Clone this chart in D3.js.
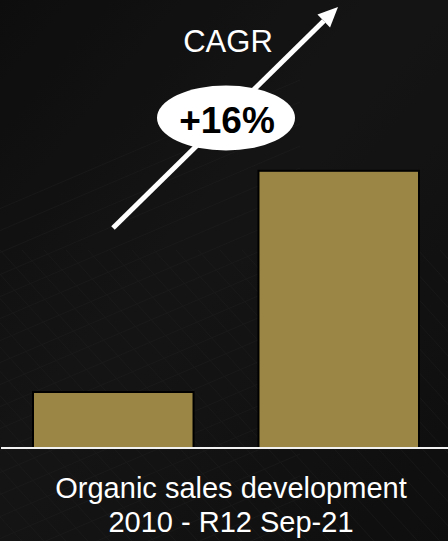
<!DOCTYPE html>
<html>
<head>
<meta charset="utf-8">
<script src="https://cdn.jsdelivr.net/npm/d3@7"></script>
<style>
html,body{margin:0;padding:0;background:#121212;}
svg{display:block;}
</style>
</head>
<body>
<svg id="chart" width="448" height="541"></svg>
<script>
const categories = ["2010", "R12 Sep-21"];
const values = [1.0, 4.95];
const cagrLabel = "CAGR";
const cagrValue = "+16%";
const captionLines = ["Organic sales development", "2010 - R12 Sep-21"];

const W = 448, H = 541;
const svg = d3.select("#chart");
const defs = svg.append("defs");

// background
const bg = defs.append("linearGradient").attr("id","bg").attr("x1","0").attr("y1","0").attr("x2","1").attr("y2","1");
bg.append("stop").attr("offset","0%").attr("stop-color","#0f0f0f");
bg.append("stop").attr("offset","45%").attr("stop-color","#1a1a1a");
bg.append("stop").attr("offset","100%").attr("stop-color","#101010");
svg.append("rect").attr("width",W).attr("height",H).attr("fill","url(#bg)");

// faint building grid texture
const tex = svg.append("g").attr("stroke","#2a2a2a").attr("stroke-width",1).attr("opacity",0.5);
for (let i = -20; i < 40; i++) {
  tex.append("line").attr("x1", i*22).attr("y1", 250).attr("x2", i*22 + 300).attr("y2", 541 + 40)
    .attr("transform","rotate(0)");
}
for (let i = 0; i < 30; i++) {
  tex.append("line").attr("x1", -50).attr("y1", 230 + i*22).attr("x2", 300).attr("y2", 80 + i*22);
}
svg.append("rect").attr("width",W).attr("height",H).attr("fill","#0c0c0c").attr("opacity",0.35);

const baseY = 448;
const x = d3.scaleBand().domain(categories).range([33, 419]).paddingInner(0.288).paddingOuter(0);
const y = d3.scaleLinear().domain([0, 5.5]).range([baseY, baseY - 5.5*56]);

svg.append("g").selectAll("rect").data(values).join("rect")
  .attr("x", (d,i) => x(categories[i]))
  .attr("y", d => y(d))
  .attr("width", x.bandwidth())
  .attr("height", d => y(0) - y(d))
  .attr("fill", "#9b8646")
  .attr("stroke", "#000")
  .attr("stroke-width", 2);

// baseline
svg.append("line").attr("x1", 1).attr("x2", W).attr("y1", baseY).attr("y2", baseY)
  .attr("stroke", "#f2f2f2").attr("stroke-width", 2);

// arrow
const x0 = 113, y0 = 228, x1 = 338, y1 = 7;
const ang = Math.atan2(y1 - y0, x1 - x0);
const headLen = 20, headW = 9;
const bx = x1 - headLen*Math.cos(ang), by = y1 - headLen*Math.sin(ang);
svg.append("line").attr("x1", x0).attr("y1", y0).attr("x2", bx).attr("y2", by)
  .attr("stroke", "#fff").attr("stroke-width", 5);
const px = -Math.sin(ang), py = Math.cos(ang);
svg.append("path")
  .attr("d", `M${x1},${y1} L${bx + px*headW},${by + py*headW} L${bx - px*headW},${by - py*headW} Z`)
  .attr("fill", "#fff");

// ellipse label
svg.append("ellipse").attr("cx", 226).attr("cy", 118).attr("rx", 69).attr("ry", 32.5).attr("fill", "#fff");
svg.append("text").attr("x", 227).attr("y", 133).attr("text-anchor", "middle")
  .attr("font-family", "Liberation Sans, Arial, sans-serif").attr("font-weight", "bold")
  .attr("font-size", 37).attr("fill", "#000").text(cagrValue);

svg.append("text").attr("x", 228).attr("y", 52).attr("text-anchor", "middle")
  .attr("font-family", "Liberation Sans, Arial, sans-serif")
  .attr("font-size", 31).attr("fill", "#fff").text(cagrLabel);

// caption
svg.append("g").selectAll("text").data(captionLines).join("text")
  .attr("x", 231).attr("y", (d,i) => 498 + i*34).attr("text-anchor", "middle")
  .attr("font-family", "Liberation Sans, Arial, sans-serif")
  .attr("font-size", 29).attr("fill", "#fff").text(d => d);
</script>
</body>
</html>
